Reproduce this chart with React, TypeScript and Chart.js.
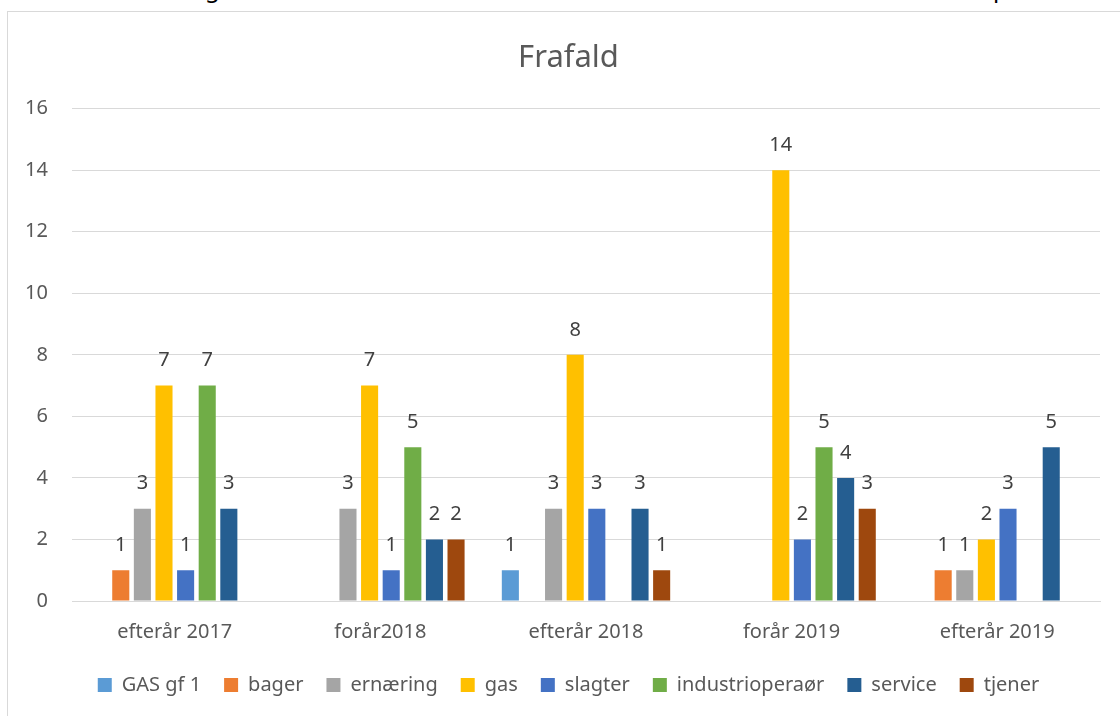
import React, { useEffect, useRef } from "react";
import { Chart, registerables } from "chart.js";

Chart.register(...registerables);

const categories = ["efterår 2017", "forår2018", "efterår 2018", "forår 2019", "efterår 2019"];
const seriesNames = ["GAS gf 1", "bager", "ernæring", "gas", "slagter", "industrioperaør", "service", "tjener"];
const gasGf1 = [null, null, 1, null, null];
const bager = [1, null, null, null, 1];
const ernaering = [3, 3, 3, null, 1];
const gas = [7, 7, 8, 14, 2];
const slagter = [1, 1, 3, 2, 3];
const industrioperaor = [7, 5, null, 5, null];
const service = [3, 2, 3, 4, 5];
const tjener = [null, 2, 1, 3, null];
const yTicks = [0, 2, 4, 6, 8, 10, 12, 14, 16];
const colors = ["#5B9BD5", "#ED7D31", "#A5A5A5", "#FFC000", "#4472C4", "#70AD47", "#255E91", "#9E480E"];

const FONT = "'Noto Sans', sans-serif";

const dataLabelPlugin = {
  id: "dataLabels",
  afterDatasetsDraw(chart: any) {
    const ctx = chart.ctx;
    ctx.save();
    ctx.font = `20px ${FONT}`;
    ctx.fillStyle = "#404040";
    ctx.textAlign = "center";
    ctx.textBaseline = "middle";
    chart.data.datasets.forEach((ds: any, i: number) => {
      const meta = chart.getDatasetMeta(i);
      meta.data.forEach((el: any, j: number) => {
        const v = ds.data[j];
        if (v === null || v === undefined) return;
        ctx.fillText(String(v), el.x, el.y - 25);
      });
    });
    ctx.restore();
  },
};

export default function App() {
  const ref = useRef<HTMLCanvasElement>(null);
  useEffect(() => {
    if (!ref.current) return;
    const all = [gasGf1, bager, ernaering, gas, slagter, industrioperaor, service, tjener];
    const chart = new Chart(ref.current, {
      type: "bar",
      data: {
        labels: categories,
        datasets: all.map((d, i) => ({
          label: seriesNames[i],
          data: d,
          backgroundColor: colors[i],
          borderWidth: 0,
          categoryPercentage: 0.841,
          barPercentage: 0.79,
          yAxisID: "y",
        })),
      },
      options: {
        animation: false,
        responsive: false,
        maintainAspectRatio: false,
        layout: { padding: { left: 26, right: 0, top: 0, bottom: 11 } },
        plugins: {
          title: {
            display: true,
            text: "Frafald",
            color: "#595959",
            font: { family: FONT, size: 31, weight: "normal" as any },
            padding: { top: 40, bottom: 31.5 },
          },
          legend: {
            position: "bottom",
            labels: {
              boxWidth: 14,
              boxHeight: 14,
              padding: 23,
              color: "#595959",
              font: { family: FONT, size: 20 },
            },
          },
          tooltip: { enabled: false },
        },
        scales: {
          x: {
            grid: { display: false, drawTicks: false },
            border: { display: true, color: "#D9D9D9", width: 1 },
            ticks: { color: "#595959", font: { family: FONT, size: 20 }, padding: 19 },
            afterFit: (axis: any) => {
              axis.height = 51;
            },
          },
          y: {
            min: 0,
            max: 16,
            afterBuildTicks: (axis: any) => {
              axis.ticks = yTicks.map((v) => ({ value: v }));
            },
            afterFit: (axis: any) => {
              axis.width = 46;
            },
            grid: { color: "#D9D9D9", lineWidth: 1, drawTicks: false },
            border: { display: false },
            ticks: { color: "#595959", font: { family: FONT, size: 20 }, padding: 24 },
          },
          yRight: {
            type: "linear",
            position: "right",
            display: true,
            grid: { display: false, drawTicks: false },
            border: { display: false },
            ticks: { display: false },
            afterFit: (axis: any) => {
              axis.width = 11;
            },
          },
        },
      },
      plugins: [dataLabelPlugin],
    });
    return () => chart.destroy();
  }, []);

  return (
    <div style={{ position: "fixed", left: 0, top: 0, width: 1120, height: 716, overflow: "hidden", background: "#fff" }}>
      <div style={{ position: "absolute", left: 0, top: 0, width: 1120, height: 5, overflow: "hidden", fontFamily: FONT, fontSize: 24, color: "#000" }}>
        <span style={{ position: "absolute", left: 205, top: -24, lineHeight: "24px" }}>g</span>
        <span style={{ position: "absolute", left: 766, top: -24, lineHeight: "24px" }}>,</span>
        <span style={{ position: "absolute", left: 993, top: -24, lineHeight: "24px" }}>p</span>
      </div>
      <div style={{ position: "absolute", left: 7, top: 11, width: 1140, height: 740, border: "1px solid #D9D9D9" }} />
      <canvas ref={ref} width={1111} height={716} style={{ position: "absolute", left: 0, top: 0, width: 1111, height: 716 }} />
    </div>
  );
}
